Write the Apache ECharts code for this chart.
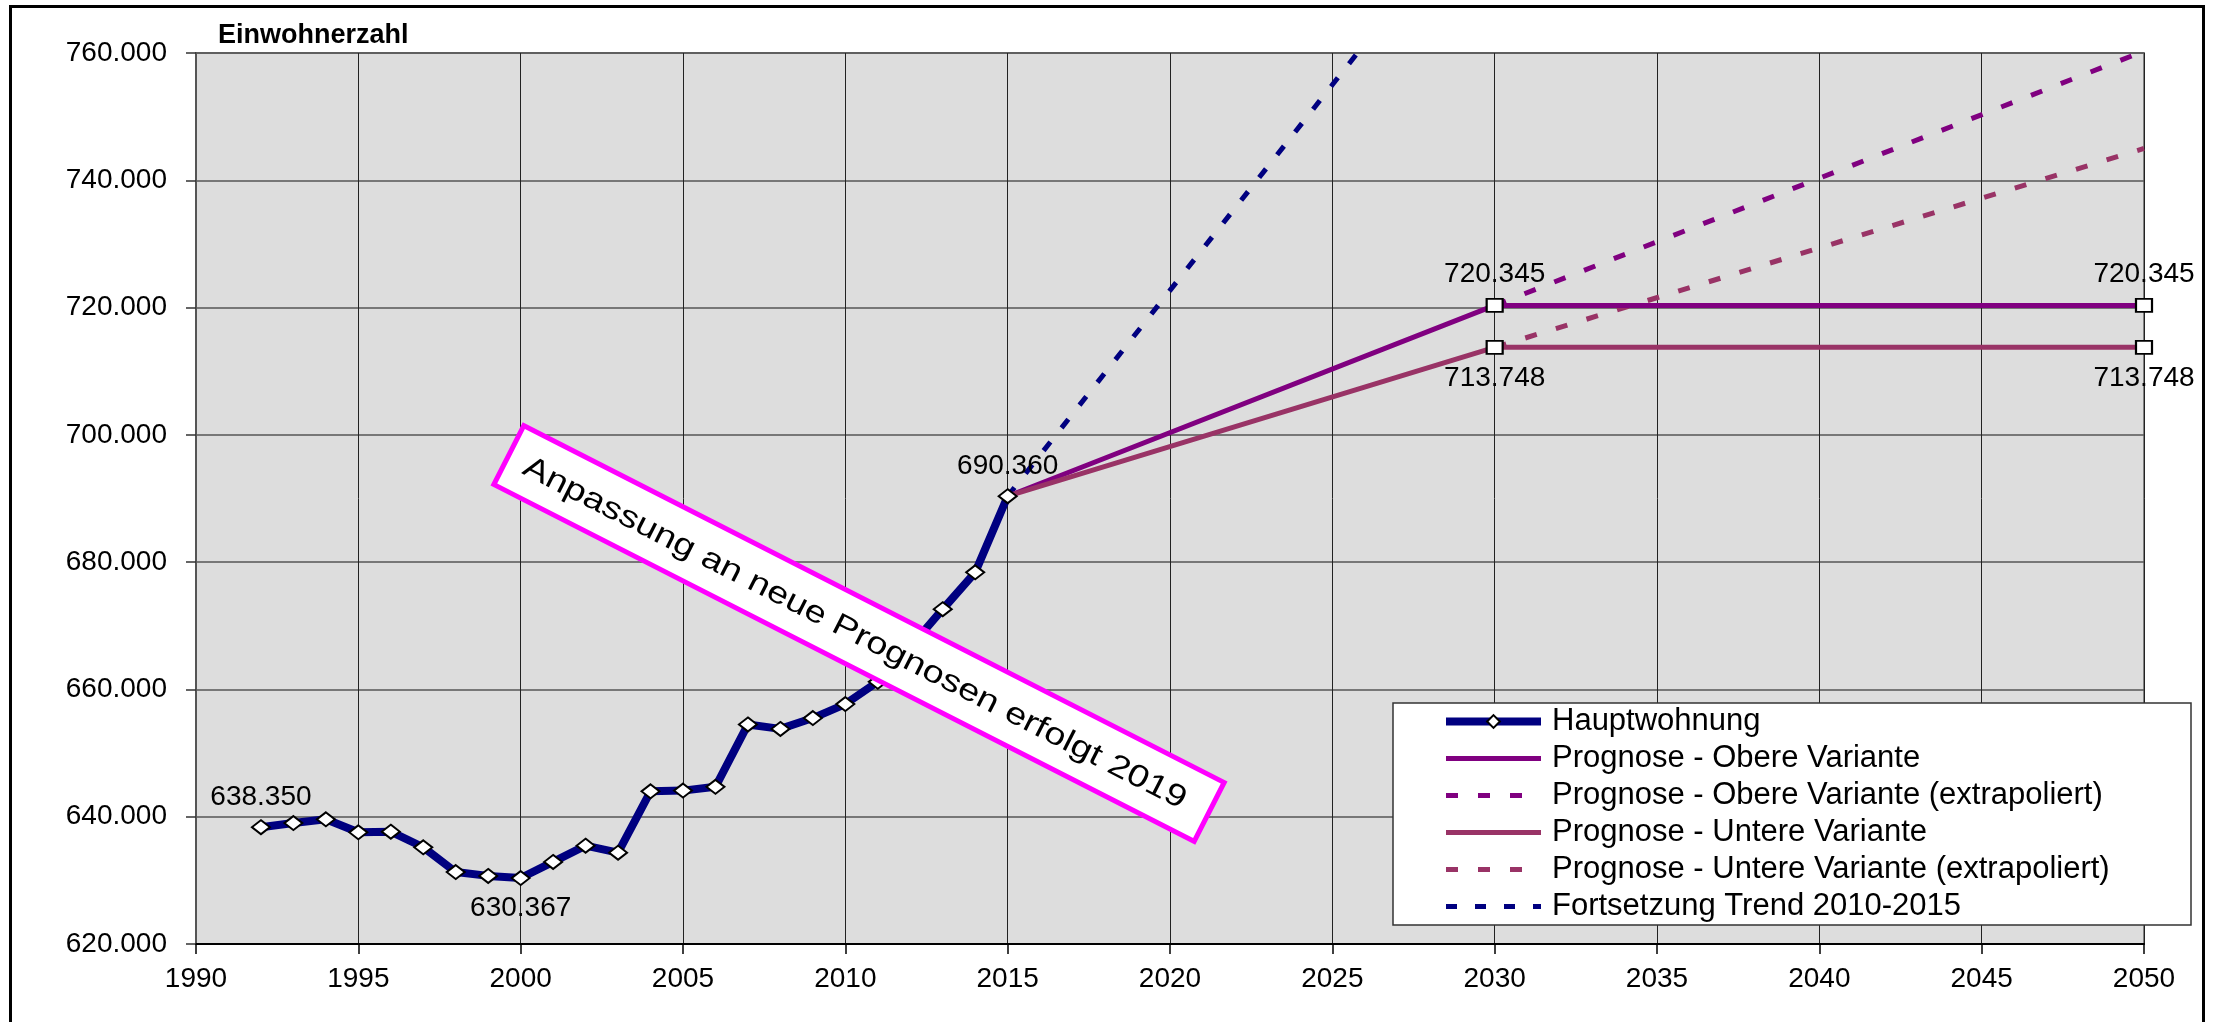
<!DOCTYPE html>
<html>
<head>
<meta charset="utf-8">
<script src="https://cdn.jsdelivr.net/npm/echarts@6/dist/echarts.min.js"></script>
<style>html,body{margin:0;padding:0;background:#fff;}#c{width:2213px;height:1022px;}</style>
</head>
<body>
<div id="c"></div>
<script>
// ---- data ----
const hauptYears = [1992,1993,1994,1995,1996,1997,1998,1999,2000,2001,2002,2003,2004,2005,2006,2007,2008,2009,2010,2011,2012,2013,2014,2015];
const hauptValues = [638350,639000,639600,637550,637650,635200,631300,630700,630367,632900,635450,634350,644000,644100,644700,654500,653800,655500,657700,661200,666700,672600,678400,690360];
const hauptLabelYears = [1992,2000,2015];
const hauptLabelPos = ['top','bottom','top'];

const obereYears = [2015,2030,2050];
const obereValues = [690360,720345,720345];
const obereExtraYears = [2030,2050];
const obereExtraValues = [720345,760300];

const untereYears = [2015,2030,2050];
const untereValues = [690360,713748,713748];
const untereExtraYears = [2030,2050];
const untereExtraValues = [713748,745000];

const trendYears = [2015,2020,2025,2030];
const trendValues = [690360,722700,755000,787300];

const markerYears = [2030,2050];

const seriesNames = [
  'Hauptwohnung',
  'Prognose - Obere Variante',
  'Prognose - Obere Variante (extrapoliert)',
  'Prognose - Untere Variante',
  'Prognose - Untere Variante (extrapoliert)',
  'Fortsetzung Trend 2010-2015'
];
const xTickLabels = {min:1990, max:2050, interval:5};
const yTickLabels = {min:620000, max:760000, interval:20000};
const titleText = 'Einwohnerzahl';
const noteText = 'Anpassung an neue Prognosen erfolgt 2019';

// ---- helpers ----
const FF = '"Liberation Sans", Arial, Helvetica, sans-serif';
function fmt(v){ return String(Math.round(v)).replace(/\B(?=(\d{3})+(?!\d))/g,'.'); }
const labelStyle = {fontSize:28, fontFamily:FF, color:'#000', formatter: p => fmt(p.value[1])};

const hauptData = hauptYears.map((y,i) => {
  const item = {value:[y, hauptValues[i]]};
  const k = hauptLabelYears.indexOf(y);
  if (k >= 0) item.label = Object.assign({show:true, position:hauptLabelPos[k], distance:8}, labelStyle);
  return item;
});
function progData(years, values, pos){
  return years.map((y,i) => {
    const item = {value:[y, values[i]]};
    if (markerYears.indexOf(y) >= 0) {
      item.symbol = 'rect';
      item.symbolSize = [16,13];
      item.label = Object.assign({show:true, position:pos, distance:10}, labelStyle);
    }
    return item;
  });
}
function plain(years, values){ return years.map((y,i) => [y, values[i]]); }

const hidden = {color:'transparent', borderColor:'transparent', borderWidth:0, opacity:0};
const legendData = seriesNames.map((n,i) => (i === 0
  ? {name:n, lineStyle:{width:8}, itemStyle:{color:'#fff', borderColor:'#000', borderWidth:2}}
  : {name:n, lineStyle:{width:5}, itemStyle:hidden}));

const chart = echarts.init(document.getElementById('c'), null, {renderer:'canvas'});
chart.setOption({
  animation:false,
  backgroundColor:'#fff',
  title:{text:titleText, left:218, top:22, padding:0,
    textStyle:{fontSize:27, fontWeight:'bold', fontFamily:FF, color:'#000'}},
  grid:{left:196, top:53, width:1948, height:891, show:true,
    backgroundColor:'#DDDDDD', borderColor:'#808080', borderWidth:2},
  xAxis:{type:'value', min:xTickLabels.min, max:xTickLabels.max, interval:xTickLabels.interval,
    axisLine:{show:true, onZero:false, lineStyle:{color:'#000', width:2}},
    axisTick:{show:true, inside:false, length:10, lineStyle:{color:'#000', width:1.5}},
    axisLabel:{margin:21, fontSize:28, fontFamily:FF, color:'#000', formatter: v => String(v)},
    splitLine:{show:true, lineStyle:{color:'#222', width:1}}},
  yAxis:{type:'value', min:yTickLabels.min, max:yTickLabels.max, interval:yTickLabels.interval,
    axisLine:{show:true, lineStyle:{color:'#555', width:2}},
    axisTick:{show:true, inside:false, length:10, lineStyle:{color:'#333', width:1.5}},
    axisLabel:{margin:29, fontSize:28, fontFamily:FF, color:'#000', formatter: v => fmt(v)},
    splitLine:{show:true, lineStyle:{color:'#555', width:1.5}}},
  legend:{orient:'vertical', left:1442, top:706, padding:0, itemWidth:95, itemHeight:16, itemGap:6,
    z:6, selectedMode:false,
    textStyle:{fontSize:31, fontFamily:FF, color:'#000', padding:[0,0,0,6]},
    data:legendData},
  series:[
    {name:seriesNames[0], type:'line', data:hauptData, z:4,
      symbol:'diamond', symbolSize:[18,14],
      itemStyle:{color:'#fff', borderColor:'#000', borderWidth:2},
      lineStyle:{color:'#000080', width:8}},
    {name:seriesNames[1], type:'line', data:progData(obereYears, obereValues, 'top'), z:3,
      symbol:'none', showSymbol:true,
      itemStyle:{color:'#fff', borderColor:'#000', borderWidth:2},
      lineStyle:{color:'#800080', width:5}},
    {name:seriesNames[2], type:'line', data:plain(obereExtraYears, obereExtraValues), z:2,
      symbol:'none', itemStyle:{color:'#800080'},
      lineStyle:{color:'#800080', width:5, type:[12,20]}},
    {name:seriesNames[3], type:'line', data:progData(untereYears, untereValues, 'bottom'), z:3,
      symbol:'none', showSymbol:true,
      itemStyle:{color:'#fff', borderColor:'#000', borderWidth:2},
      lineStyle:{color:'#993366', width:5}},
    {name:seriesNames[4], type:'line', data:plain(untereExtraYears, untereExtraValues), z:2,
      symbol:'none', itemStyle:{color:'#993366'},
      lineStyle:{color:'#993366', width:5, type:[12,20]}},
    {name:seriesNames[5], type:'line', data:plain(trendYears, trendValues), z:2,
      symbol:'none', itemStyle:{color:'#000080'},
      lineStyle:{color:'#000080', width:5, type:[11,18]}}
  ],
  graphic:[
    {type:'rect', z:5, shape:{x:1393, y:703, width:798, height:222},
      style:{fill:'#fff', stroke:'#333', lineWidth:1.5}},
    {type:'group', x:859, y:633.5, rotation:-27*Math.PI/180, z:7, children:[
      {type:'rect', z:7, shape:{x:-393, y:-33, width:786, height:66},
        style:{fill:'#fff', stroke:'#FF00FF', lineWidth:5}},
      {type:'text', z:8, x:-4, y:2, scaleX:1.22,
        style:{text:noteText, x:0, y:0, align:'center', verticalAlign:'middle',
          font:'31px ' + FF, fill:'#000'}}
    ]},
    {type:'rect', z:9, shape:{x:10.5, y:6.5, width:2193, height:1040},
      style:{fill:null, stroke:'#000', lineWidth:3}}
  ]
});
</script>
</body>
</html>
